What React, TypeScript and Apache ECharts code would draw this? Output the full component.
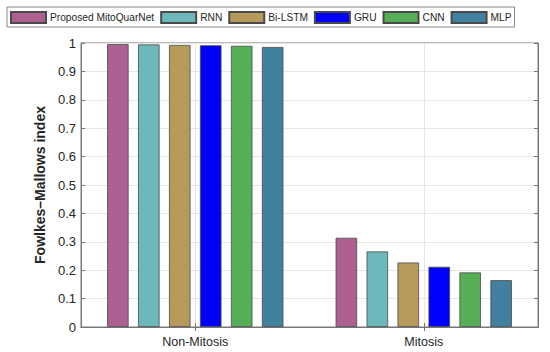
import React, { useEffect, useRef } from "react";
import * as echarts from "echarts";

const categories = ["Non-Mitosis", "Mitosis"];
const seriesNames = ["Proposed MitoQuarNet", "RNN", "Bi-LSTM", "GRU", "CNN", "MLP"];
const proposed = [0.996, 0.314];
const rnn = [0.995, 0.266];
const biLstm = [0.993, 0.227];
const gru = [0.992, 0.212];
const cnn = [0.990, 0.192];
const mlp = [0.986, 0.165];
const yTicks = [0, 0.1, 0.2, 0.3, 0.4, 0.5, 0.6, 0.7, 0.8, 0.9, 1];
const colors = ["#AF6092", "#6DB8BB", "#B59A5B", "#0000FF", "#56AE57", "#41819F"];

export default function App() {
  const ref = useRef<HTMLDivElement>(null);
  useEffect(() => {
    if (!ref.current) return;
    const chart = echarts.init(ref.current, undefined, { renderer: "svg" });
    const values = [proposed, rnn, biLstm, gru, cnn, mlp];
    const font = "'Liberation Sans', Arial, sans-serif";
    const textColor = "#262626";
    const axisColor = "#777777";
    chart.setOption({
      animation: false,
      textStyle: { fontFamily: font },
      grid: {
        left: 81,
        right: 12,
        top: 43,
        bottom: 25,
        show: true,
        borderColor: axisColor,
        borderWidth: 1,
        backgroundColor: "transparent",
      },
      legend: {
        left: 7,
        top: 7,
        width: 540,
        orient: "horizontal",
        icon: "rect",
        itemWidth: 35,
        itemHeight: 11,
        itemGap: 6,
        padding: [4, 3, 3, 3],
        borderColor: "#888888",
        borderWidth: 1,
        textStyle: { fontSize: 10.2, color: textColor, fontFamily: font, padding: [0, 0, 0, -1] },
        data: seriesNames,
      },
      xAxis: [
        {
          type: "category",
          data: categories,
          axisLine: { show: true, lineStyle: { color: axisColor } },
          axisTick: { show: true, inside: true, alignWithLabel: true, length: 4, lineStyle: { color: axisColor } },
          axisLabel: { color: textColor, fontSize: 12.5, margin: 8, fontFamily: font },
          splitLine: { show: true, alignWithLabel: true, lineStyle: { color: "#E6E6E6" } },
        },
        {
          type: "category",
          data: categories,
          position: "top",
          axisLine: { show: true, lineStyle: { color: axisColor } },
          axisTick: { show: true, inside: true, alignWithLabel: true, length: 4, lineStyle: { color: axisColor } },
          axisLabel: { show: false },
          splitLine: { show: false },
        },
      ],
      yAxis: [
        {
          type: "value",
          min: 0,
          max: 1,
          interval: 0.1,
          name: "Fowlkes–Mallows index",
          nameLocation: "middle",
          nameGap: 34,
          nameTextStyle: { fontWeight: "bold", fontSize: 14, color: textColor, fontFamily: font },
          axisLine: { show: true, lineStyle: { color: axisColor } },
          axisTick: { show: true, inside: true, length: 4, lineStyle: { color: axisColor } },
          axisLabel: {
            color: textColor,
            fontSize: 13,
            margin: 5,
            fontFamily: font,
            formatter: (v: number) => {
              const t = yTicks.find((x) => Math.abs(x - v) < 1e-9);
              return t === undefined ? "" : String(t);
            },
          },
          splitLine: { show: true, lineStyle: { color: "#E6E6E6" } },
        },
        {
          type: "value",
          min: 0,
          max: 1,
          interval: 0.1,
          position: "right",
          axisLine: { show: true, lineStyle: { color: axisColor } },
          axisTick: { show: true, inside: true, length: 4, lineStyle: { color: axisColor } },
          axisLabel: { show: false },
          splitLine: { show: false },
        },
      ],
      series: seriesNames.map((name, i) => ({
        name,
        type: "bar",
        data: values[i],
        barWidth: 21.5,
        barGap: "44%",
        itemStyle: { color: colors[i], borderColor: "#4A4A4A", borderWidth: 0.8 },
        emphasis: { disabled: true },
      })),
    });
    return () => chart.dispose();
  }, []);
  return <div ref={ref} style={{ width: 550, height: 352, position: "absolute", left: 0, top: 0 }} />;
}
